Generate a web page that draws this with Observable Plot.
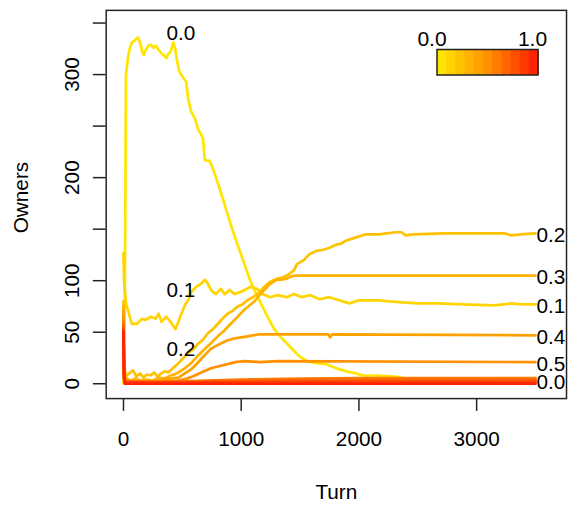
<!DOCTYPE html>
<html><head><meta charset="utf-8">
<script src="https://cdn.jsdelivr.net/npm/d3@7"></script>
<script src="https://cdn.jsdelivr.net/npm/@observablehq/plot@0.6"></script>
<style>
html,body{margin:0;padding:0;background:#fff;overflow:hidden;}
#wrap{position:relative;width:569px;height:508px;overflow:hidden;background:#fff;}
#wrap svg{display:block;}
#legend{position:absolute;left:0;top:0;pointer-events:none;}
</style></head><body><div id="wrap"></div>
<script>
// ---- data ----
const probs = ["0.0","0.1","0.2","0.3","0.4","0.5","0.6","0.7","0.8","0.9","1.0"];
const colors = ["#FFE500","#FFD400","#FFC200","#FFB200","#FFA200","#FF9000","#FF7C00","#FF6600","#FF5000","#FF3A00","#FF2400"];

const series00 = [[0,0],[8,40],[15,150],[21,300],[40,318],[55,326],[71,331],[95,333],[122,336],[135,333],[147,329],[160,322],[172,319],[190,324],[210,328],[231,329],[256,326],[275,328],[298,324],[320,321],[340,319],[365,316],[380,320],[399,322],[424,331],[440,325],[449,317],[474,303],[508,297],[533,293],[550,276],[575,264],[608,257],[634,247],[676,238],[685,225],[692,217],[734,216],[759,209],[801,195],[843,180],[885,164],[927,149],[969,135],[1028,116],[1070,102],[1112,91],[1154,81],[1179,75],[1238,62],[1280,53],[1330,46],[1389,39],[1431,34],[1490,27],[1557,22],[1641,20],[1724,19],[1808,15],[1892,12],[1976,10],[2035,8],[2150,8],[2312,7],[2400,5],[2600,4],[2800,3],[3000,3],[3200,3],[3420,2],[3440,3],[3500,3]];
const series01 = [[0,127],[5,100],[21,78],[46,68],[71,58],[113,58],[155,63],[189,62],[231,65],[273,63],[298,68],[323,60],[365,65],[399,60],[424,56],[441,53],[466,60],[482,65],[524,77],[550,81],[575,89],[617,94],[659,97],[692,101],[717,97],[743,91],[785,87],[827,92],[860,87],[902,91],[944,87],[994,89],[1028,91],[1078,94],[1137,92],[1179,87],[1246,84],[1305,86],[1389,84],[1448,87],[1515,84],[1582,86],[1666,82],[1750,84],[1834,81],[1918,78],[2002,81],[2169,81],[2253,80],[2371,79],[2505,78],[2673,78],[2874,77],[3151,76],[3294,78],[3378,77],[3500,77]];
const series02 = [[0,80],[5,30],[12,12],[25,8],[50,10],[80,13],[110,7],[140,10],[170,6],[200,9],[230,8],[260,11],[290,7],[320,10],[350,12],[380,11],[420,15],[467,20],[500,24],[550,30],[590,33],[634,39],[670,42],[717,49],[760,53],[801,58],[840,63],[885,68],[930,71],[969,75],[1010,77],[1053,81],[1100,84],[1137,87],[1196,94],[1246,99],[1305,102],[1350,103],[1389,105],[1448,110],[1473,116],[1532,120],[1582,126],[1641,129],[1699,130],[1750,132],[1808,135],[1850,136],[1892,139],[1976,142],[2060,145],[2169,145],[2312,147],[2360,147],[2396,144],[2455,145],[2732,146],[3235,146],[3294,144],[3378,145],[3500,146]];
const series03 = [[0,75],[5,25],[12,8],[30,5],[60,3],[100,5],[150,3],[200,4],[250,3],[300,6],[350,5],[400,8],[430,9],[467,11],[520,15],[575,20],[630,27],[692,34],[740,39],[801,46],[850,51],[910,58],[970,65],[1028,72],[1070,76],[1112,80],[1150,85],[1196,91],[1246,97],[1305,101],[1340,101],[1389,102],[1420,104],[1456,105],[3500,105]];
const series04 = [[0,70],[5,20],[12,6],[30,3],[100,2],[200,2],[300,3],[400,5],[467,6],[520,10],[575,14],[620,19],[659,24],[700,29],[743,34],[790,37],[827,39],[880,42],[944,44],[1000,45],[1053,46],[1100,47],[1162,48],[1305,48],[1740,48],[1755,45],[1775,48],[3500,47]];
const series05 = [[0,65],[5,15],[12,4],[30,2],[200,1],[350,2],[467,3],[540,5],[608,8],[680,12],[743,15],[810,17],[885,19],[950,21],[1028,22],[1162,21],[1305,22],[3500,21]];
const series06 = [[0,60],[5,12],[12,3],[100,2],[400,2],[700,3],[1000,4],[1500,5],[2000,5.5],[3500,5.5]];
const series07 = [[0,57],[5,10],[12,2],[300,1.5],[800,2.5],[1500,3.5],[3500,4]];
const series08 = [[0,54],[5,8],[12,1.5],[500,1],[1200,2],[3500,2.5]];
const series09 = [[0,52],[5,6],[12,1],[1000,1],[3500,1.2]];
const series10 = [[0,50],[5,4],[12,0],[3500,0]];

const xTicks = [0,1000,2000,3000];
const yTicks = [0,50,100,150,200,250,300,350];
const yTickLabels = ["0","50","100","","200","","300",""];

const innerLabels = ["0.0","0.1","0.2"];
const innerLabelTurns = [487,487,487];
const innerLabelOwners = [340,91,33.5];

const endLabelSeries = ["0.0","0.1","0.2","0.3","0.4","0.5"];
const legendLabels = ["0.0","1.0"];

// ---- build tables ----
const allSeries = [series00,series01,series02,series03,series04,series05,series06,series07,series08,series09,series10];
const rows = [];
allSeries.forEach((s,i)=>s.forEach(([t,v])=>rows.push({p:probs[i],turn:t,owners:v})));
const endRows = endLabelSeries.map(p=>{const s=allSeries[probs.indexOf(p)];const last=s[s.length-1];return {p,turn:last[0],owners:last[1]};});
const innerRows = innerLabels.map((t,i)=>({text:t,turn:innerLabelTurns[i],owners:innerLabelOwners[i]}));
const yLabelFor = new Map(yTicks.map((t,i)=>[t,yTickLabels[i]]));

const FS = 21;
const chart = Plot.plot({
  width: 576, height: 508,
  marginLeft: 107, marginRight: 3, marginTop: 10, marginBottom: 105,
  x: {domain: [-146.8, 3763.5]},
  y: {domain: [-14.4, 362.3]},
  color: {domain: probs, range: colors},
  style: {fontFamily: "'Liberation Sans', Arial, sans-serif", fontSize: FS+"px", color: "black", background: "white"},
  marks: [
    Plot.line(rows, {x:"turn", y:"owners", z:"p", stroke:"p", strokeWidth:2.75, strokeLinejoin:"round", curve:"linear"}),
    Plot.frame({stroke:"#222", strokeWidth:1.5}),
    Plot.axisX(xTicks, {tickSize:13, tickPadding:20.5, tickFormat:d=>String(d), stroke:"#222", strokeWidth:1.5, fontSize:FS, label:null}),
    Plot.axisY(yTicks, {tickSize:13, tickPadding:15, tickRotate:-90, tickFormat:d=>yLabelFor.get(d), stroke:"#222", strokeWidth:1.5, fontSize:FS, label:null}),
    Plot.text(endRows, {x:"turn", y:"owners", text:"p", textAnchor:"start", lineAnchor:"middle", dx:1, dy:2, fill:"black", fontSize:FS}),
    Plot.text(innerRows, {x:"turn", y:"owners", text:"text", textAnchor:"middle", lineAnchor:"middle", fill:"black", fontSize:FS}),
    Plot.text(["Owners"], {text:d=>d, frameAnchor:"left", rotate:-90, dx:-86, dy:-7, lineAnchor:"middle", textAnchor:"middle", fill:"black", fontSize:FS}),
    Plot.text(["Turn"], {text:d=>d, frameAnchor:"bottom", dy:95, lineAnchor:"middle", textAnchor:"middle", fill:"black", fontSize:FS})
  ]
});
document.getElementById("wrap").appendChild(chart);

// ---- colour-bar legend ----
const lg = d3.select("#wrap").append("svg").attr("id","legend").attr("width",569).attr("height",508);
const bx0 = 437, bx1 = 538, by0 = 49.5, by1 = 75;
const bw = (bx1-bx0)/colors.length;
lg.selectAll("rect.band").data(colors).join("rect").attr("class","band")
  .attr("x",(d,i)=>bx0+i*bw).attr("y",by0).attr("width",bw+0.6).attr("height",by1-by0).attr("fill",d=>d);
lg.append("rect").attr("x",bx0).attr("y",by0).attr("width",bx1-bx0).attr("height",by1-by0)
  .attr("fill","none").attr("stroke","#222").attr("stroke-width",1.5);
lg.selectAll("text").data(legendLabels).join("text")
  .attr("x",(d,i)=>i===0?432:532.5).attr("y",39).attr("dy","0.32em")
  .attr("text-anchor","middle").attr("font-family","'Liberation Sans', Arial, sans-serif")
  .attr("font-size",FS).attr("fill","black").text(d=>d);
</script></body></html>
